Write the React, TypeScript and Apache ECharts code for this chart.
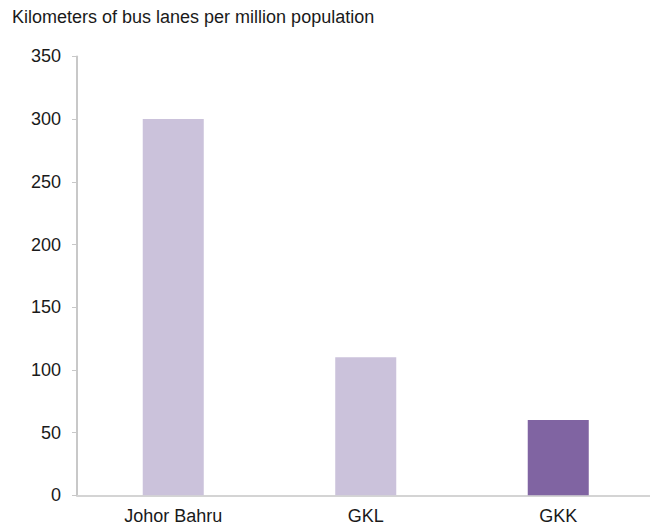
import React, { useEffect, useRef } from "react";
import * as echarts from "echarts";

const categories = ["Johor Bahru", "GKL", "GKK"];
const values = [300, 110, 60];
const barColors = ["#CBC2DB", "#CBC2DB", "#8064A2"];
const yTicks = { min: 0, max: 350, interval: 50 };
const titleText = "Kilometers of bus lanes per million population";

export default function App() {
  const ref = useRef<HTMLDivElement>(null);
  useEffect(() => {
    if (!ref.current) return;
    const chart = echarts.init(ref.current, undefined, { renderer: "svg" });
    chart.setOption({
      animation: false,
      title: {
        text: titleText,
        left: 4,
        top: 0,
        padding: 0,
        textStyle: {
          fontFamily: "Liberation Sans, Arial, sans-serif",
          fontSize: 18,
          fontWeight: "normal",
          color: "#1a1a1a",
        },
      },
      grid: { left: 69, right: 3.5, top: 48.4, bottom: 31.7, containLabel: false },
      xAxis: {
        type: "category",
        data: categories,
        axisLine: { lineStyle: { color: "#d4d4d4", width: 2 } },
        axisTick: { show: false },
        axisLabel: {
          margin: 12,
          fontFamily: "Liberation Sans, Arial, sans-serif",
          fontSize: 18,
          color: "#1a1a1a",
        },
      },
      yAxis: {
        type: "value",
        min: yTicks.min,
        max: yTicks.max,
        interval: yTicks.interval,
        splitLine: { show: false },
        axisLine: { show: true, lineStyle: { color: "#c8c8c8", width: 2 } },
        axisTick: { show: true, length: 5, lineStyle: { color: "#c8c8c8", width: 1 } },
        axisLabel: {
          margin: 16,
          fontFamily: "Liberation Sans, Arial, sans-serif",
          fontSize: 18,
          color: "#1a1a1a",
        },
      },
      series: [
        {
          type: "bar",
          barWidth: "31.7%",
          data: values.map((v, i) => ({ value: v, itemStyle: { color: barColors[i] } })),
        },
      ],
    });
    return () => chart.dispose();
  }, []);
  return <div ref={ref} style={{ width: 650, height: 519 }} />;
}
